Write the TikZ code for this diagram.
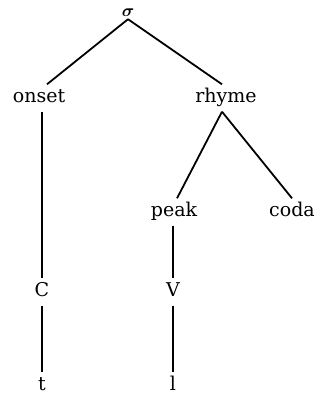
\documentclass[tikz,border=0pt]{standalone}
\usepackage{amsmath}
\usepackage{fontspec}
\setmainfont{DejaVu Serif}
\begin{document}
\begin{tikzpicture}[x=1pt,y=-1pt,
  lab/.style={font=\fontsize{19}{21}\selectfont, text height=13pt, text depth=4pt, inner xsep=1pt, inner ysep=5pt},
  br/.style={line width=1.8pt}]
\useasboundingbox (0,0) rectangle (321,398);
\node[lab, font=\fontsize{18}{20}\selectfont, text height=8pt, text depth=0pt, inner ysep=2pt] (sigma) at (128,13) {$\boldsymbol{\sigma}$};
\node[lab] (onset) at (39,98) {onset};
\node[lab] (rhyme) at (226,98) {rhyme};
\node[lab] (peak) at (174,212) {peak};
\node[lab] (coda) at (292,212) {coda};
\node[lab] (C) at (42,292) {C};
\node[lab] (V) at (173,292) {V};
\node[lab] (t) at (42,386) {t};
\node[lab] (l) at (173,386) {l};
\draw[br] (sigma.south) -- ([xshift=8pt]onset.north);
\draw[br] (sigma.south) -- ([xshift=-4pt]rhyme.north);
\draw[br] ([xshift=-4pt]rhyme.south) -- ([xshift=3pt]peak.north);
\draw[br] ([xshift=-4pt]rhyme.south) -- (coda.north);
\draw[br] (onset.south -| C) -- (C.north);
\draw[br] (C.south) -- (t.north);
\draw[br] (peak.south -| V) -- (V.north);
\draw[br] (V.south) -- (l.north);
\end{tikzpicture}
\end{document}
